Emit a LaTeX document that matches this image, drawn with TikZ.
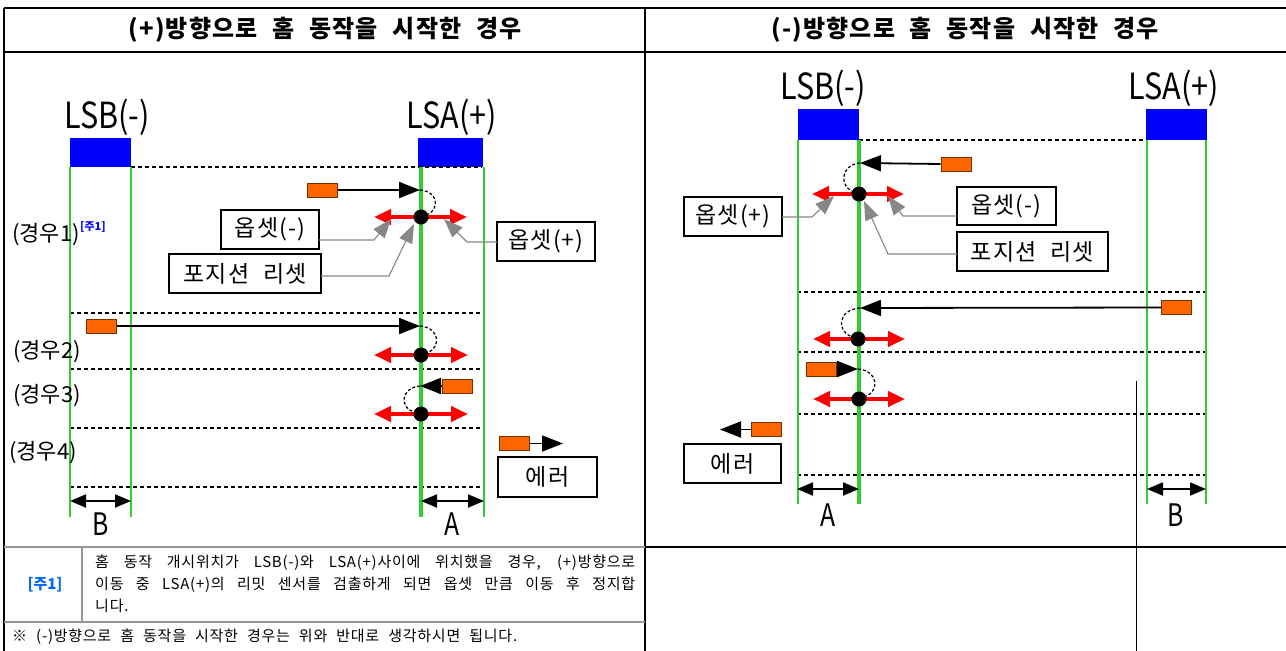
\documentclass[tikz,border=0pt]{standalone}
\usepackage{fontspec}
\setmainfont{Noto Sans CJK KR}[WordSpace=2.2]
\newfontfamily\spacedfont{Noto Sans CJK KR}[WordSpace=2.2,LetterSpace=5]
\usetikzlibrary{arrows.meta}
\definecolor{lgreen}{RGB}{51,204,51}
\definecolor{porange}{RGB}{255,102,0}
\definecolor{pborder}{RGB}{110,50,0}
\definecolor{notblue}{RGB}{0,102,255}
\definecolor{tgray}{RGB}{150,150,150}
\begin{document}
\begin{tikzpicture}[x=1pt,y=-1pt,
  frame/.style={draw=black,line width=1.5pt},
  gframe/.style={draw=tgray,line width=1.2pt},
  header/.style={font=\fontsize{24}{28}\spacedfont\bfseries},
  lslabel/.style={font=\fontsize{36}{38}\selectfont,inner sep=0},
  dimlabel/.style={font=\fontsize{31}{34}\selectfont,inner sep=0},
  caselabel/.style={font=\fontsize{22}{26}\selectfont,inner sep=0,anchor=west},
  sensor/.style={fill=blue,draw=none,inner sep=0},
  gthin/.style={draw=lgreen,line width=2pt},
  gthick/.style={draw=lgreen,line width=4pt},
  dline/.style={dash pattern=on 4pt off 3pt,line width=1.6pt},
  pulse/.style={fill=porange,draw=pborder,line width=1pt,minimum width=30pt,minimum height=14pt,inner sep=0},
  move/.style={-{Triangle[length=21pt,width=16pt]},line width=1.8pt},
  redarr/.style={{Triangle[length=17pt,width=15pt]}-{Triangle[length=17pt,width=15pt]},draw=red,line width=4pt},
  dotn/.style={circle,fill=black,minimum size=15pt,inner sep=0},
  arcl/.style={dash pattern=on 3pt off 2pt,line width=1.2pt},
  callout/.style={draw=black,line width=1.2pt,font=\fontsize{23}{26}\spacedfont,inner sep=0},
  pointer/.style={draw=tgray!90!black,line width=1.1pt,-{Triangle[length=19pt,width=14pt]}},
  dimarr/.style={{Triangle[length=16pt,width=13pt]}-{Triangle[length=16pt,width=13pt]},line width=1.8pt},
  notetext/.style={font=\fontsize{15}{18}\spacedfont,inner sep=0,anchor=west}
]
\useasboundingbox (0,0) rectangle (1286,651);
\fill[white] (0,0) rectangle (1286,651);

% ---------- table frame ----------
\draw[frame] (4,8) -- (1286,8);
\draw[frame] (4,52) -- (1286,52);
\draw[frame] (4,8) -- (4,651);
\draw[frame] (645,8) -- (645,651);
\draw[frame] (645,547) -- (1286,547);
\draw[gframe] (4,547) -- (645,547);
\draw[gframe] (4,622) -- (645,622);
\draw[gframe] (82,547) -- (82,622);
\draw[line width=1pt] (1136,381) -- (1136,651);

\node[header] (hL) at (325,30) {(+)방향으로 홈 동작을 시작한 경우};
\node[header] (hR) at (965,30) {(-)방향으로 홈 동작을 시작한 경우};

% =========== LEFT PANEL ===========
\node[lslabel] (lsbLt) at (107,117) {\scalebox{0.85}[1]{LSB(-)}};
\node[lslabel] (lsaLt) at (452,117) {\scalebox{0.85}[1]{LSA(+)}};
\node[sensor,minimum width=61pt,minimum height=29pt] (lsbL) at (100.5,152.5) {};
\node[sensor,minimum width=65pt,minimum height=29pt] (lsaL) at (450.5,152.5) {};

\draw[dline] (131,167) -- (482,167);
\foreach \yy in {313,369,428,487} \draw[dline] (70,\yy) -- (484,\yy);

\draw[gthin] (70,167) -- (70,517);
\draw[gthin] (131,167) -- (131,517);
\draw[gthick] (421,167) -- (421,517);
\draw[gthin] (484,167) -- (484,517);

\node[caselabel] (c1L) at (12,235) {(경우1)};
\node[inner sep=0,anchor=west,text=blue,font=\fontsize{11}{13}\selectfont\bfseries] (n1s) at ([yshift=8pt]c1L.east) {[주1]};
\node[caselabel] (c2L) at (13,352) {(경우2)};
\node[caselabel] (c3L) at (13,396) {(경우3)};
\node[caselabel] (c4L) at (9,453) {(경우4)};

% case 1 left
\node[pulse] (p1L) at (322,190) {};
\coordinate (t1L) at (420,190);
\draw[move] (p1L.east) -- (t1L);
\coordinate (r1La) at (374,217); \coordinate (r1Lb) at (467,217);
\draw[redarr] (r1La) -- (r1Lb);
\node[dotn] (d1L) at (421,217) {};
\draw[arcl] (t1L) .. controls (440,192) and (438,210) .. (d1L);

\node[callout,minimum width=98pt,minimum height=39pt] (om1L) at (270,229.5) {옵셋(-)};
\node[callout,minimum width=152pt,minimum height=39pt] (pr1L) at (245,273.5) {포지션 리셋};
\node[callout,minimum width=98pt,minimum height=39pt] (op1L) at (546,241.5) {옵셋(+)};
\coordinate (om1La) at (319,240); \coordinate (om1Lb) at (374,240); \coordinate (om1Lc) at (391,219);
\draw[pointer] (om1La) -- (om1Lb) -- (om1Lc);
\coordinate (pr1La) at (321,276); \coordinate (pr1Lb) at (389,276); \coordinate (pr1Lc) at (414,224);
\draw[pointer] (pr1La) -- (pr1Lb) -- (pr1Lc);
\coordinate (op1La) at (497,242); \coordinate (op1Lb) at (467,242); \coordinate (op1Lc) at (444,219);
\draw[pointer] (op1La) -- (op1Lb) -- (op1Lc);

% case 2 left
\node[pulse] (p2L) at (101.5,326) {};
\coordinate (t2L) at (420,326);
\draw[move] (p2L.east) -- (t2L);
\coordinate (r2La) at (374,355); \coordinate (r2Lb) at (468,355);
\draw[redarr] (r2La) -- (r2Lb);
\node[dotn] (d2L) at (421,355) {};
\draw[arcl] (t2L) .. controls (441,328) and (440,348) .. (d2L);

% case 3 left
\node[pulse] (p3L) at (457.5,386) {};
\coordinate (t3L) at (420,386);
\draw[move] (p3L.west) -- (t3L);
\coordinate (r3La) at (374,414); \coordinate (r3Lb) at (468,414);
\draw[redarr] (r3La) -- (r3Lb);
\node[dotn] (d3L) at (421,414) {};
\draw[arcl] (t3L) .. controls (400,388) and (400,408) .. (d3L);

% case 4 left
\node[pulse] (p4L) at (514.5,443.5) {};
\coordinate (t4L) at (563,443.5);
\draw[move] (p4L.east) -- (t4L);
\node[callout,minimum width=99pt,minimum height=40pt] (errL) at (547.5,477) {에러};

% dimensions left
\coordinate (bLa) at (70,501); \coordinate (bLb) at (131,501);
\draw[dimarr] (bLa) -- (bLb);
\coordinate (aLa) at (421,501); \coordinate (aLb) at (484,501);
\draw[dimarr] (aLa) -- (aLb);
\node[dimlabel] (bLt) at (101,524) {\scalebox{0.8}[1]{B}};
\node[dimlabel] (aLt) at (452,524) {\scalebox{0.8}[1]{A}};

% =========== RIGHT PANEL ===========
\node[lslabel] (lsbRt) at (823,88) {\scalebox{0.85}[1]{LSB(-)}};
\node[lslabel] (lsaRt) at (1174,88) {\scalebox{0.85}[1]{LSA(+)}};
\node[sensor,minimum width=61pt,minimum height=31pt] (lsbR) at (828.5,124.5) {};
\node[sensor,minimum width=61pt,minimum height=31pt] (lsaR) at (1176.5,124.5) {};

\draw[dline] (859,140) -- (1146,140);
\foreach \yy in {292,352,414,475} \draw[dline] (797,\yy) -- (1206,\yy);

\draw[gthin] (798,140) -- (798,504);
\draw[gthick] (859,140) -- (859,504);
\draw[gthin] (1147,140) -- (1147,504);
\draw[gthin] (1206,140) -- (1206,504);

% case 1 right
\node[pulse] (p1R) at (956,164) {};
\coordinate (t1R) at (860,163);
\draw[move] (p1R.west) -- (t1R);
\coordinate (r1Ra) at (812,194); \coordinate (r1Rb) at (904,194);
\draw[redarr] (r1Ra) -- (r1Rb);
\node[dotn] (d1R) at (859,194) {};
\draw[arcl] (t1R) .. controls (840,165) and (840,186) .. (d1R);

\node[callout,minimum width=98pt,minimum height=39pt] (op1R) at (733,216.5) {옵셋(+)};
\node[callout,minimum width=99pt,minimum height=38pt] (om1R) at (1006.5,206) {옵셋(-)};
\node[callout,minimum width=151pt,minimum height=39pt] (pr1R) at (1032.5,251.5) {포지션 리셋};
\coordinate (op1Ra) at (782,217); \coordinate (op1Rb) at (812,217); \coordinate (op1Rc) at (834,196);
\draw[pointer] (op1Ra) -- (op1Rb) -- (op1Rc);
\coordinate (om1Ra) at (957,216); \coordinate (om1Rb) at (903,216); \coordinate (om1Rc) at (888,196);
\draw[pointer] (om1Ra) -- (om1Rb) -- (om1Rc);
\coordinate (pr1Ra) at (957,254); \coordinate (pr1Rb) at (888,254); \coordinate (pr1Rc) at (864,201);
\draw[pointer] (pr1Ra) -- (pr1Rb) -- (pr1Rc);

% case 2 right
\node[pulse] (p2R) at (1176.5,307.5) {};
\coordinate (t2R) at (860,308);
\draw[move] (p2R.west) -- (t2R);
\coordinate (r2Ra) at (813,339); \coordinate (r2Rb) at (905,339);
\draw[redarr] (r2Ra) -- (r2Rb);
\node[dotn] (d2R) at (858,339) {};
\draw[arcl] (t2R) .. controls (837,310) and (837,331) .. (d2R);

% case 3 right
\node[pulse] (p3R) at (821,369) {};
\coordinate (t3R) at (858,369);
\draw[move] (p3R.east) -- (t3R);
\coordinate (r3Ra) at (813,399); \coordinate (r3Rb) at (905,399);
\draw[redarr] (r3Ra) -- (r3Rb);
\node[dotn] (d3R) at (859,399) {};
\draw[arcl] (t3R) .. controls (879,371) and (879,391) .. (d3R);

% case 4 right
\node[pulse] (p4R) at (766.5,429.5) {};
\coordinate (t4R) at (720,429.5);
\draw[move] (p4R.west) -- (t4R);
\node[callout,minimum width=97pt,minimum height=39pt] (errR) at (732.5,463.5) {에러};

% dimensions right
\coordinate (aRa) at (797,489); \coordinate (aRb) at (859,489);
\draw[dimarr] (aRa) -- (aRb);
\coordinate (bRa) at (1147,489); \coordinate (bRb) at (1206,489);
\draw[dimarr] (bRa) -- (bRb);
\node[dimlabel] (aRt) at (828,515) {\scalebox{0.8}[1]{A}};
\node[dimlabel] (bRt) at (1176,515) {\scalebox{0.8}[1]{B}};

% =========== NOTES ===========
\node[inner sep=0,text=notblue,font=\fontsize{15}{18}\selectfont\bfseries] (n1) at (45,585) {[주1]};
\node[notetext] (nl1) at (95,563) {\makebox[540pt][s]{홈 동작 개시위치가 LSB(-)와 LSA(+)사이에 위치했을 경우, (+)방향으로}};
\node[notetext] (nl2) at (95,585) {\makebox[540pt][s]{이동 중 LSA(+)의 리밋 센서를 검출하게 되면 옵셋 만큼 이동 후 정지합}};
\node[notetext] (nl3) at (95,606) {니다.};
\node[notetext] (nl4) at (12,637) {※ (-)방향으로 홈 동작을 시작한 경우는 위와 반대로 생각하시면 됩니다.};
\end{tikzpicture}
\end{document}
